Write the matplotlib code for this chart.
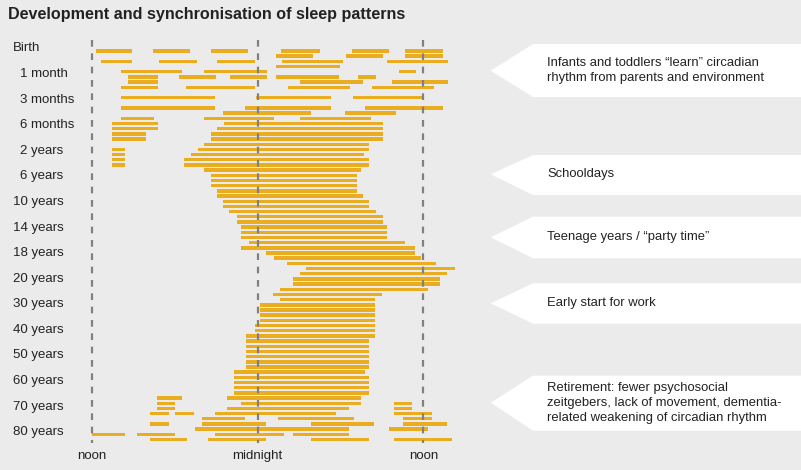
import matplotlib
matplotlib.use("Agg")
from matplotlib import pyplot as plt
from matplotlib.patches import Polygon

plt.rcParams['font.family'] = ['Liberation Sans', 'DejaVu Sans']

# hours after noon (0 = noon, 12 = midnight, 24 = next noon); one list per row, top to bottom
sleep_rows = [
    [(0.3, 2.9), (4.4, 7.1), (8.6, 11.3), (13.7, 16.5), (18.8, 21.5), (22.7, 25.4)],
    [(13.3, 16.0), (18.4, 21.1), (22.7, 25.4)],
    [(0.7, 2.9), (4.9, 7.6), (9.1, 11.8), (13.8, 18.2), (21.4, 25.8)],
    [(13.3, 18.0)],
    [(2.1, 6.5), (8.1, 12.7), (22.2, 23.5)],
    [(2.6, 4.8), (6.3, 9.0), (10.0, 12.7), (13.3, 17.9), (19.3, 20.6)],
    [(2.6, 4.8), (15.1, 19.6), (21.7, 25.8)],
    [(2.1, 4.8), (6.8, 11.8), (14.2, 18.7), (20.3, 24.8)],
    [],
    [(2.1, 8.9), (11.9, 17.3), (18.9, 24.0)],
    [],
    [(2.1, 8.9), (11.1, 17.3), (19.8, 25.4)],
    [(9.5, 15.9), (18.3, 22.0)],
    [(2.1, 4.5), (8.1, 13.2), (15.1, 20.2)],
    [(1.5, 4.8), (9.6, 21.1)],
    [(1.5, 4.8), (9.1, 21.1)],
    [(1.5, 3.9), (8.6, 21.1)],
    [(1.5, 3.9), (8.6, 21.1)],
    [(8.1, 20.1)],
    [(1.5, 2.4), (7.7, 20.1)],
    [(1.5, 2.4), (7.2, 19.7)],
    [(1.5, 2.4), (6.7, 20.1)],
    [(1.5, 2.4), (6.7, 20.1)],
    [(8.1, 19.5)],
    [(8.6, 19.2)],
    [(8.6, 19.2)],
    [(8.6, 19.2)],
    [(9.1, 19.2)],
    [(9.1, 19.6)],
    [(9.5, 20.1)],
    [(9.5, 20.1)],
    [(9.9, 20.6)],
    [(10.5, 21.1)],
    [(10.5, 21.1)],
    [(10.8, 21.4)],
    [(10.8, 21.4)],
    [(10.8, 21.4)],
    [(11.4, 22.7)],
    [(10.8, 23.4)],
    [(12.6, 23.4)],
    [(13.2, 23.8)],
    [(14.1, 24.9)],
    [(15.5, 26.3)],
    [(15.1, 25.7)],
    [(14.6, 25.2)],
    [(14.6, 25.2)],
    [(13.6, 24.3)],
    [(13.1, 21.0)],
    [(13.6, 20.5)],
    [(12.2, 20.5)],
    [(12.2, 20.5)],
    [(12.2, 20.5)],
    [(12.2, 20.5)],
    [(11.8, 20.5)],
    [(11.8, 20.5)],
    [(11.2, 20.5)],
    [(11.2, 20.1)],
    [(11.2, 20.1)],
    [(11.2, 20.1)],
    [(11.2, 20.1)],
    [(11.2, 20.1)],
    [(11.2, 20.1)],
    [(10.3, 19.8)],
    [(10.3, 20.1)],
    [(10.3, 20.1)],
    [(10.3, 20.1)],
    [(10.3, 20.1)],
    [(4.7, 6.5), (9.8, 19.5)],
    [(4.7, 6.0), (10.8, 19.5), (21.9, 23.2)],
    [(4.7, 6.0), (9.8, 18.6), (21.9, 23.2)],
    [(4.2, 5.6), (6.0, 7.4), (8.9, 17.7), (21.9, 24.6)],
    [(8.0, 11.1), (13.5, 19.0), (22.5, 24.6)],
    [(4.2, 5.6), (8.0, 12.6), (15.9, 20.4), (22.5, 25.7)],
    [(7.5, 18.6), (21.5, 24.3)],
    [(0.0, 2.4), (3.3, 6.0), (8.9, 13.9), (14.6, 18.6)],
    [(4.2, 6.9), (8.4, 12.6), (15.9, 20.1), (21.9, 26.1)],
]

age_labels = ['Birth', '1 month', '3 months', '6 months', '2 years', '6 years',
              '10 years', '14 years', '18 years', '20 years', '30 years',
              '40 years', '50 years', '60 years', '70 years', '80 years']
label_rows = [-0.5 + 4.94 * k for k in range(len(age_labels))]

time_ticks = [0, 12, 24]
time_labels = ['noon', 'midnight', 'noon']

notes = [
    'Infants and toddlers \u201clearn\u201d circadian\nrhythm from parents and environment',
    'Schooldays',
    'Teenage years / \u201cparty time\u201d',
    'Early start for work',
    'Retirement: fewer psychosocial\nzeitgebers, lack of movement, dementia-\nrelated weakening of circadian rhythm',
]
# top, bottom, tip of each callout (pixels from top)
note_boxes = [(44, 97, 70.7), (155, 195, 174.3), (216.7, 258.3, 237.3),
              (283.3, 323.7, 303.3), (375.7, 430.7, 402.7)]

W, H = 801, 470
bg = '#ebebeb'
bar_color = '#eaad1f'

fig = plt.figure(figsize=(W / 100, H / 100), dpi=100, facecolor=bg)
ax = fig.add_axes([0, 0, 1, 1])
ax.set_facecolor(bg)

# pixel mapping: noon at x=91.7, 13.82 px per hour; row 0 at y=51, 5.18 px per row
px_hour, x0 = 13.82, 91.7
px_row, y0 = 5.18, 51
ax.set_xlim(-x0 / px_hour, (W - x0) / px_hour)
ax.set_ylim((H - y0) / px_row, -y0 / px_row)
ax.axis('off')

for i, row in enumerate(sleep_rows):
    for start, end in row:
        ax.barh(i, end - start, left=start, height=0.66, color=bar_color, linewidth=0)

for t in time_ticks:
    ax.plot([t, t], [(40 - y0) / px_row, (443 - y0) / px_row], color='#808080',
            lw=1.6, dashes=(3, 3), zorder=3)

for t, lab in zip(time_ticks, time_labels):
    ax.text(t, (456 - y0) / px_row, lab, ha='center', va='center', fontsize=9.5, color='#222222')

for lab, r in zip(age_labels, label_rows):
    x = 20.5 if (lab[0].isdigit() and not lab[1].isdigit()) else 13
    ax.text(x / W, r, lab, transform=ax.get_yaxis_transform(), ha='left', va='center',
            fontsize=9.5, color='#222222')

fig.text(8 / W, 1 - 14 / H, 'Development and synchronisation of sleep patterns',
         fontsize=11.6, fontweight='bold', ha='left', va='center', color='#222222')

for (top, bot, tip), txt in zip(note_boxes, notes):
    pts = [(490.7, tip), (533, top), (W + 2, top), (W + 2, bot), (533, bot)]
    poly = Polygon([(x / W, 1 - y / H) for x, y in pts], closed=True,
                   transform=fig.transFigure, facecolor='white', edgecolor='none')
    fig.add_artist(poly)
    fig.text(547 / W, 1 - tip / H, txt, ha='left', va='center', fontsize=9.4,
             color='#222222', linespacing=1.32)

fig.savefig('out.png', dpi=100, facecolor=bg)
